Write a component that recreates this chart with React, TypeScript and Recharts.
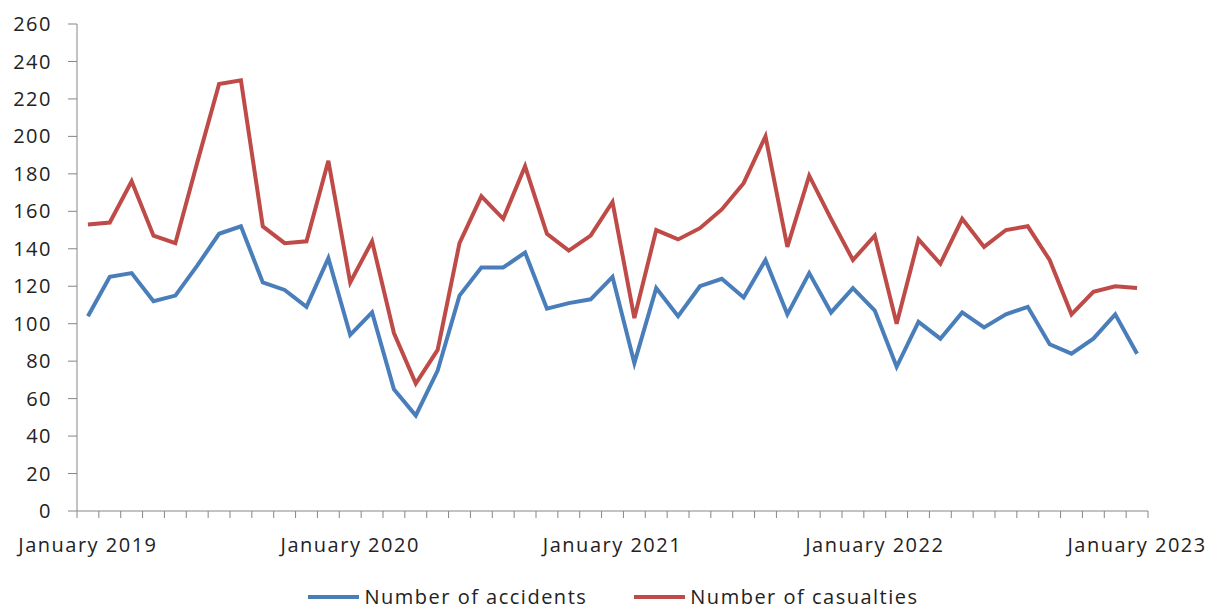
import React from 'react';
import { LineChart, Line, XAxis, YAxis, Legend } from 'recharts';

const months = [
  'January 2019', 'February 2019', 'March 2019', 'April 2019', 'May 2019', 'June 2019',
  'July 2019', 'August 2019', 'September 2019', 'October 2019', 'November 2019', 'December 2019',
  'January 2020', 'February 2020', 'March 2020', 'April 2020', 'May 2020', 'June 2020',
  'July 2020', 'August 2020', 'September 2020', 'October 2020', 'November 2020', 'December 2020',
  'January 2021', 'February 2021', 'March 2021', 'April 2021', 'May 2021', 'June 2021',
  'July 2021', 'August 2021', 'September 2021', 'October 2021', 'November 2021', 'December 2021',
  'January 2022', 'February 2022', 'March 2022', 'April 2022', 'May 2022', 'June 2022',
  'July 2022', 'August 2022', 'September 2022', 'October 2022', 'November 2022', 'December 2022',
  'January 2023',
];

const accidents = [
  104, 125, 127, 112, 115, 131, 148, 152, 122, 118, 109, 135,
  94, 106, 65, 51, 75, 115, 130, 130, 138, 108, 111, 113,
  125, 79, 119, 104, 120, 124, 114, 134, 105, 127, 106, 119,
  107, 77, 101, 92, 106, 98, 105, 109, 89, 84, 92, 105,
  84,
];

const casualties = [
  153, 154, 176, 147, 143, 186, 228, 230, 152, 143, 144, 187,
  122, 144, 95, 68, 86, 143, 168, 156, 184, 148, 139, 147,
  165, 103, 150, 145, 151, 161, 175, 200, 141, 179, 156, 134,
  147, 100, 145, 132, 156, 141, 150, 152, 134, 105, 117, 120,
  119,
];

const xLabelIndices = [0, 12, 24, 36, 48];
const yTicks = [0, 20, 40, 60, 80, 100, 120, 140, 160, 180, 200, 220, 240, 260];

const seriesNames = ['Number of accidents', 'Number of casualties'];
const colors = ['#4A7EBB', '#BE4B48'];

const data = months.map((m, i) => ({
  idx: i,
  month: m,
  accidents: accidents[i],
  casualties: casualties[i],
}));

const boundaryTicks = months.map((_, i) => i - 0.5).concat([months.length - 0.5]);
const xTicks = [...boundaryTicks, ...xLabelIndices].sort((a, b) => a - b);

const FONT = '"Open Sans", sans-serif';
const AXIS_COLOR = '#868686';
const TEXT_COLOR = '#222222';

const XTick = (props: any) => {
  const { x, y, payload } = props;
  const v = payload.value as number;
  if (!Number.isInteger(v)) {
    return <line x1={x} x2={x} y1={y} y2={y + 7} stroke={AXIS_COLOR} strokeWidth={1} />;
  }
  return (
    <text
      x={x}
      y={y + 41}
      textAnchor="middle"
      fill={TEXT_COLOR}
      fontSize={20}
      fontFamily={FONT}
      letterSpacing={1.5}
    >
      {months[v]}
    </text>
  );
};

const renderLegend = () => (
  <div
    style={{
      display: 'flex',
      justifyContent: 'center',
      alignItems: 'center',
      height: 20,
      width: 1212,
      paddingLeft: 14,
      boxSizing: 'border-box',
      fontFamily: FONT,
      fontSize: 20,
      letterSpacing: 1.5,
      color: TEXT_COLOR,
      whiteSpace: 'nowrap',
    }}
  >
    {seriesNames.map((name, i) => (
      <div key={name} style={{ display: 'flex', alignItems: 'center', marginLeft: i === 0 ? 0 : 46 }}>
        <svg width={53} height={8} style={{ display: 'block' }}>
          <line x1={1} x2={52} y1={4} y2={4} stroke={colors[i]} strokeWidth={4} />
        </svg>
        <span style={{ marginLeft: 4, lineHeight: '20px' }}>{name}</span>
      </div>
    ))}
  </div>
);

export default function App() {
  return (
    <div style={{ position: 'absolute', left: 0, top: 0, width: 1212, height: 611, background: '#fff' }}>
      <LineChart
        width={1212}
        height={611}
        data={data}
        margin={{ top: 24, right: 64, left: 0, bottom: 0 }}
      >
        <XAxis
          type="number"
          dataKey="idx"
          domain={[-0.5, months.length - 0.5]}
          ticks={xTicks}
          interval={0}
          height={80}
          tickSize={0}
          tickMargin={0}
          tickLine={false}
          axisLine={{ stroke: AXIS_COLOR, strokeWidth: 1 }}
          tick={<XTick />}
        />
        <YAxis
          type="number"
          domain={[0, 260]}
          ticks={yTicks}
          interval={0}
          width={77}
          tickSize={9}
          tickMargin={16}
          axisLine={{ stroke: AXIS_COLOR, strokeWidth: 1 }}
          tickLine={{ stroke: AXIS_COLOR, strokeWidth: 1 }}
          tick={{ fill: TEXT_COLOR, fontSize: 20, fontFamily: FONT, letterSpacing: 1.5 }}
        />
        <Legend
          verticalAlign="bottom"
          content={renderLegend}
          wrapperStyle={{ left: 0, bottom: 4, width: 1212, height: 20 }}
        />
        <Line
          type="linear"
          dataKey="accidents"
          name={seriesNames[0]}
          stroke={colors[0]}
          strokeWidth={4}
          dot={false}
          activeDot={false}
          isAnimationActive={false}
        />
        <Line
          type="linear"
          dataKey="casualties"
          name={seriesNames[1]}
          stroke={colors[1]}
          strokeWidth={4}
          dot={false}
          activeDot={false}
          isAnimationActive={false}
        />
      </LineChart>
    </div>
  );
}
